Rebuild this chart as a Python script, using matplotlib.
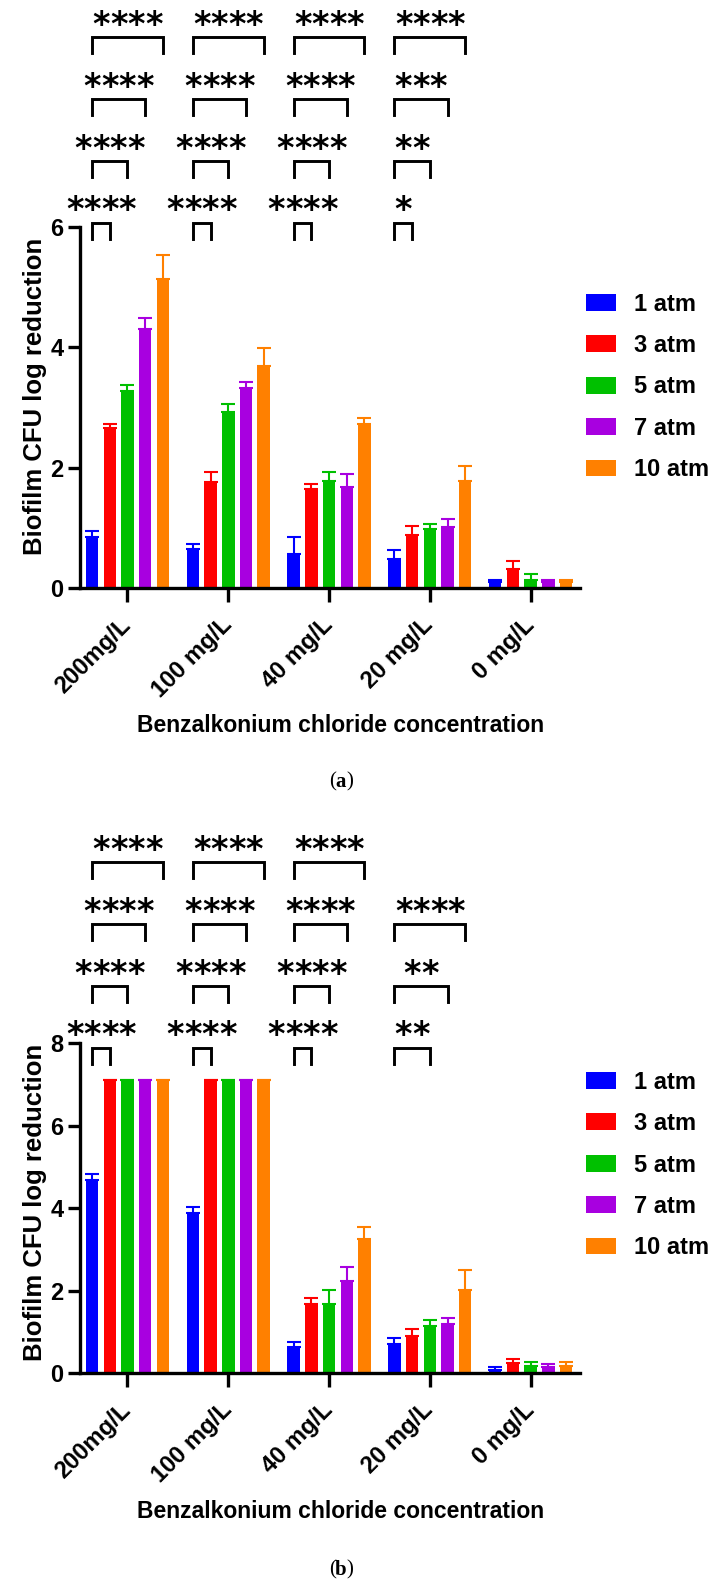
import matplotlib
matplotlib.use("Agg")
import matplotlib.pyplot as plt
import numpy as np

# groups on the x axis and the pressures (one bar colour each)
categories = ["200mg/L", "100 mg/L", "40 mg/L", "20 mg/L", "0 mg/L"]
pressures = ["1 atm", "3 atm", "5 atm", "7 atm", "10 atm"]
colors = ["#0000FF", "#FF0000", "#00C000", "#A800E0", "#FF8000"]

# panel (a): log reduction, one list per pressure over the categories
a_1atm = [0.84, 0.64, 0.56, 0.48, 0.095]
a_3atm = [2.65, 1.76, 1.64, 0.88, 0.31]
a_5atm = [3.28, 2.92, 1.77, 0.98, 0.13]
a_7atm = [4.31, 3.32, 1.68, 1.01, 0.095]
a_10atm = [5.14, 3.68, 2.72, 1.77, 0.095]
# upper error bars
a_err_1atm = [0.10, 0.09, 0.28, 0.15, 0.045]
a_err_3atm = [0.08, 0.16, 0.09, 0.15, 0.14]
a_err_5atm = [0.09, 0.14, 0.16, 0.08, 0.10]
a_err_7atm = [0.18, 0.10, 0.21, 0.13, 0.045]
a_err_10atm = [0.39, 0.31, 0.11, 0.25, 0.035]

# panel (b)
b_1atm = [4.67, 3.87, 0.64, 0.71, 0.08]
b_3atm = [7.1, 7.1, 1.67, 0.90, 0.24]
b_5atm = [7.1, 7.1, 1.67, 1.14, 0.18]
b_7atm = [7.1, 7.1, 2.23, 1.18, 0.15]
b_10atm = [7.1, 7.1, 3.25, 2.01, 0.17]
b_err_1atm = [0.15, 0.15, 0.12, 0.15, 0.06]
b_err_3atm = [0, 0, 0.16, 0.17, 0.10]
b_err_5atm = [0, 0, 0.34, 0.15, 0.09]
b_err_7atm = [0, 0, 0.35, 0.15, 0.08]
b_err_10atm = [0, 0, 0.30, 0.49, 0.09]

# significance vs 1 atm (3, 5, 7, 10 atm) per category
a_sig_3atm = ["****", "****", "****", "*", ""]
a_sig_5atm = ["****", "****", "****", "**", ""]
a_sig_7atm = ["****", "****", "****", "***", ""]
a_sig_10atm = ["****", "****", "****", "****", ""]
b_sig_3atm = ["****", "****", "****", "", ""]
b_sig_5atm = ["****", "****", "****", "**", ""]
b_sig_7atm = ["****", "****", "****", "**", ""]
b_sig_10atm = ["****", "****", "****", "****", ""]

plt.rcParams["font.family"] = ["Liberation Sans", "DejaVu Sans"]
plt.rcParams["font.weight"] = "bold"
plt.rcParams["axes.labelweight"] = "bold"

W, H = 716, 1590
fig = plt.figure(figsize=(W / 100, H / 100), dpi=100)

pitch = 0.1757
width = 0.124


def panel(top_px, zero_px, ytop, spine_top, yticks, means, errs, sigs,
          base, step, legend_mid_px, caption, caption_px, xlab_px, ylab_px):
    ax = fig.add_axes([80 / W, 1 - zero_px / H, 500 / W, (zero_px - top_px) / H])
    px_per_unit = (zero_px - top_px) / ytop
    x = np.arange(len(categories))
    for k, p in enumerate(pressures):
        m = np.array(means[k])
        e = np.array(errs[k])
        ax.bar(x + (k - 2) * pitch, m, width, color=colors[k], label=p,
               yerr=[np.zeros(len(m)), e],
               error_kw=dict(ecolor=colors[k], elinewidth=1.5, capsize=5, capthick=1.5))

    # brackets and stars
    drop = 16 / px_per_unit
    for i in range(len(categories)):
        level = 0
        for k, s in enumerate(sigs):
            if not s[i]:
                continue
            x1 = i - 2 * pitch
            x2 = i + (k - 1) * pitch
            y = base + level * step
            ax.plot([x1, x1, x2, x2], [y - drop, y, y, y - drop], color="black",
                    lw=2.1, clip_on=False, solid_joinstyle="miter")
            n = len(s[i])
            for j in range(n):
                ax.annotate("*", xy=((x1 + x2) / 2, y),
                            xytext=((j - (n - 1) / 2) * 12.6, 1.5),
                            textcoords="offset points", ha="center", va="baseline",
                            fontsize=24, family="DejaVu Sans", fontweight="bold",
                            annotation_clip=False)
            level += 1

    ax.set_xlim(-0.471, 4.49)
    ax.set_ylim(0, ytop)
    ax.set_yticks(yticks)
    ax.set_xticks(x)
    ax.set_xticklabels(categories, rotation=45, ha="right", va="center",
                       rotation_mode="anchor", fontsize=17)
    ax.tick_params(axis="y", labelsize=17, width=2.4, length=9, pad=3)
    ax.tick_params(axis="x", width=2.4, length=10, pad=14)
    for side in ["top", "right"]:
        ax.spines[side].set_visible(False)
    for side in ["left", "bottom"]:
        ax.spines[side].set_linewidth(2.4)
    ax.spines["left"].set_bounds(0, spine_top)

    ax.set_ylabel("Biofilm CFU log reduction", fontsize=18.5, fontweight="bold")
    ax.yaxis.set_label_coords(-0.066, (zero_px - ylab_px) / (zero_px - top_px))
    ax.yaxis.label.set_va("bottom")
    ax.set_xlabel("Benzalkonium chloride concentration", fontsize=16.5, fontweight="bold")
    ax.xaxis.label.set_va("center")
    ax.xaxis.set_label_coords((341 - 80) / 500, (zero_px - xlab_px) / (zero_px - top_px))

    ax.legend(loc="center left", bbox_to_anchor=(574 / W, 1 - legend_mid_px / H),
              bbox_transform=fig.transFigure, frameon=False, fontsize=17,
              borderpad=0, handlelength=1.27, handleheight=0.72,
              handletextpad=0.75, labelspacing=0.78)

    # caption "(a)" with the letter in bold
    cy = 1 - caption_px / H
    cx = 341 / W
    fig.text(cx, cy, caption, ha="center", va="center",
             family="Liberation Serif", fontweight="bold", fontsize=15)
    fig.text(cx - 5.5 / W, cy, "(", ha="right", va="center",
             family="Liberation Serif", fontweight="normal", fontsize=15)
    fig.text(cx + 5.5 / W, cy, ")", ha="left", va="center",
             family="Liberation Serif", fontweight="normal", fontsize=15)
    return ax


panel(7, 588, 9.65, 6, [0, 2, 4, 6],
      [a_1atm, a_3atm, a_5atm, a_7atm, a_10atm],
      [a_err_1atm, a_err_3atm, a_err_5atm, a_err_7atm, a_err_10atm],
      [a_sig_3atm, a_sig_5atm, a_sig_7atm, a_sig_10atm],
      6.07, 1.027, 387, "a", 782, 726, 396)

panel(824, 1373, 13.31, 8, [0, 2, 4, 6, 8],
      [b_1atm, b_3atm, b_5atm, b_7atm, b_10atm],
      [b_err_1atm, b_err_3atm, b_err_5atm, b_err_7atm, b_err_10atm],
      [b_sig_3atm, b_sig_5atm, b_sig_7atm, b_sig_10atm],
      7.89, 1.5, 1165, "b", 1570, 1511, 1202)

fig.savefig("out.png", dpi=100)
